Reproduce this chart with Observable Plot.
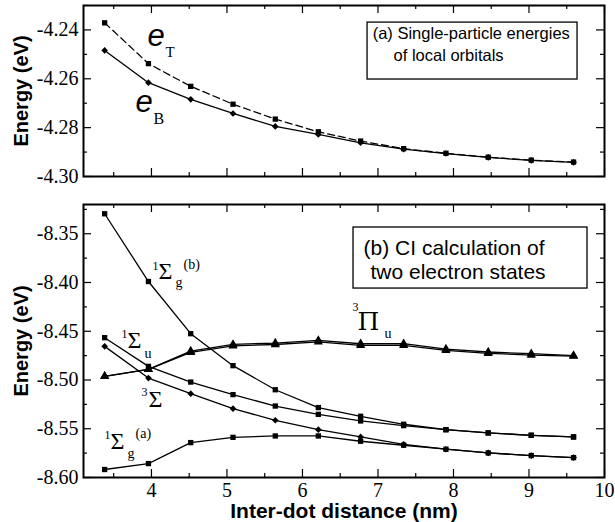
<!DOCTYPE html>
<html><head><meta charset="utf-8">
<script src="https://cdn.jsdelivr.net/npm/d3@7"></script>
<script src="https://cdn.jsdelivr.net/npm/@observablehq/plot@0.6"></script>
<style>
body{margin:0;background:#fff}
#chart{width:615px;height:522px;overflow:hidden}
#chart svg{display:block}
</style>
</head><body><div id="chart"></div>
<script>
// ---- data ----
const distance = [3.38, 3.96, 4.52, 5.08, 5.64, 6.21, 6.77, 7.34, 7.90, 8.46, 9.03, 9.59];
// panel (a): single-particle energies (eV)
const eT = [-4.2371, -4.2538, -4.2631, -4.2704, -4.2765, -4.2817, -4.2855, -4.2886, -4.2905, -4.2921, -4.2933, -4.2941];
const eB = [-4.2484, -4.2616, -4.2684, -4.2742, -4.2795, -4.2828, -4.2862, -4.2888, -4.2906, -4.2922, -4.2934, -4.2942];
// panel (b): CI two-electron states (eV)
const sigmaGb = [-8.3295, -8.3990, -8.4525, -8.4853, -8.5100, -8.5283, -8.5372, -8.5454, -8.5509, -8.5543, -8.5567, -8.5584];
const sigmaU  = [-8.4566, -8.4860, -8.5021, -8.5150, -8.5267, -8.5352, -8.5420, -8.5468, -8.5510, -8.5543, -8.5567, -8.5584];
const sigma3  = [-8.4655, -8.4980, -8.5140, -8.5294, -8.5413, -8.5509, -8.5584, -8.5660, -8.5710, -8.5748, -8.5775, -8.5796];
const sigmaGa = [-8.5918, -8.5857, -8.5642, -8.5588, -8.5574, -8.5574, -8.5628, -8.5669, -8.5710, -8.5748, -8.5775, -8.5796];
const pi3uA   = [-8.4962, -8.4891, -8.4703, -8.4635, -8.4621, -8.4594, -8.4628, -8.4628, -8.4683, -8.4713, -8.4730, -8.4750];
const pi3uB   = [-8.4962, -8.4891, -8.4716, -8.4650, -8.4636, -8.4608, -8.4644, -8.4644, -8.4697, -8.4727, -8.4744, -8.4756];

// ticks
const xMajor = [4, 5, 6, 7, 8, 9, 10];
const xMinor = [3.5, 4.5, 5.5, 6.5, 7.5, 8.5, 9.5];
const yMajorA = [-4.30, -4.28, -4.26, -4.24];
const yMinorA = [-4.29, -4.27, -4.25];
const yMajorB = [-8.60, -8.55, -8.50, -8.45, -8.40, -8.35];
const yMinorB = [-8.575, -8.525, -8.475, -8.425, -8.375, -8.325];

// texts
const yTitle = "Energy (eV)";
const xTitle = "Inter-dot distance (nm)";
const boxA = ["(a) Single-particle energies", "of local orbitals"];
const boxB = ["(b) CI calculation of", "two electron states"];

// annotation anchors (data units)
const boxARect = {x1: 6.862, x2: 9.643, y1: -4.2370, y2: -4.2603};
const boxAText = [{x: 6.93, y: -4.2436}, {x: 7.206, y: -4.2527}];
const boxBRect = {x1: 6.676, x2: 9.775, y1: -8.3436, y2: -8.4062};
const boxBText = [{x: 6.809, y: -8.3723}, {x: 6.901, y: -8.3959}];
const lblET = {x: 3.948, y: -4.2464};
const lblEB = {x: 3.789, y: -4.2738};
const lblSgb = {x: 4.093, y: -8.3959};
const lblSu = {x: 3.683, y: -8.4667};
const lbl3S = {x: 3.961, y: -8.5282};
const lblSga = {x: 3.458, y: -8.5703};
const lblPi = {x: 6.729, y: -8.4492};

const serif = "'Liberation Serif', 'Times New Roman', serif";
const dserif = "'DejaVu Serif', serif";
const sans = "'Liberation Sans', Arial, Helvetica, sans-serif";
const W = 615, ML = 83, MR = 11;
const FW = W - ML - MR;

const rows = ys => distance.map((x, i) => ({x, y: ys[i]}));

function series(ys, symbol, r, dash) {
  const d = rows(ys);
  return [
    Plot.line(d, {x: "x", y: "y", stroke: "black", strokeWidth: 1.3, strokeDasharray: dash}),
    Plot.dot(d, {x: "x", y: "y", symbol, r, fill: "black"})
  ];
}

function frameTicks(yMaj, yMin, fh) {
  const t = [];
  for (const [vals, len] of [[xMajor, 8], [xMinor, 4]]) {
    t.push(Plot.tickX(vals, {x: d => d, insetTop: fh - len, stroke: "black", strokeWidth: 1.2}));
    t.push(Plot.tickX(vals, {x: d => d, insetBottom: fh - len, stroke: "black", strokeWidth: 1.2}));
  }
  for (const [vals, len] of [[yMaj, 8], [yMin, 4]]) {
    t.push(Plot.tickY(vals, {y: d => d, insetRight: FW - len, stroke: "black", strokeWidth: 1.2}));
    t.push(Plot.tickY(vals, {y: d => d, insetLeft: FW - len, stroke: "black", strokeWidth: 1.2}));
  }
  return t;
}

function yTickLabels(vals) {
  return Plot.text(vals, {y: d => d, text: d => d.toFixed(2), frameAnchor: "left", dx: -5,
    textAnchor: "end", lineAnchor: "middle", fontSize: 20, fontFamily: serif, fill: "black"});
}

function label(anchor, parts) {
  return parts.map(p => Plot.text([anchor], {
    x: "x", y: "y", text: () => p.t, dx: p.dx || 0, dy: p.dy || 0,
    fontSize: p.size, fontFamily: p.font || serif, fontStyle: p.style || "normal",
    textAnchor: "start", lineAnchor: "bottom", fill: "black"
  }));
}

function boxText(anchors, lines, size) {
  return lines.map((t, i) => Plot.text([anchors[i]], {
    x: "x", y: "y", text: () => t, fontSize: size, fontFamily: sans,
    textAnchor: "start", lineAnchor: "bottom", fill: "black"
  }));
}

const common = {
  width: W, marginLeft: ML, marginRight: MR,
  x: {domain: [3.1, 10], axis: null},
  style: {background: "white", color: "black", fontFamily: serif, fontSize: "20px"}
};

const topPlot = Plot.plot({
  ...common,
  height: 190, marginTop: 5, marginBottom: 14,
  y: {domain: [-4.30, -4.23], axis: null},
  marks: [
    yTickLabels(yMajorA),
    Plot.rect([boxARect], {x1: "x1", x2: "x2", y1: "y1", y2: "y2", fill: "white", stroke: "black", strokeWidth: 1.3}),
    ...boxText(boxAText, boxA, 16.5),
    ...series(eT, "square", 3, "7,4"),
    ...series(eB, "diamond2", 3),
    ...label(lblET, [{t: "e", size: 31, font: sans, style: "italic"}, {t: "T", size: 15, dx: 18, dy: 11}]),
    ...label(lblEB, [{t: "e", size: 31, font: sans, style: "italic"}, {t: "B", size: 16, dx: 18, dy: 12}]),
    ...frameTicks(yMajorA, yMinorA, 171),
    Plot.text([yTitle], {frameAnchor: "left", rotate: -90, dx: -56, textAnchor: "middle", lineAnchor: "bottom", fontSize: 20, fontWeight: "bold", fontFamily: sans, fill: "black"}),
    Plot.frame({stroke: "black", strokeWidth: 2})
  ]
});

const botPlot = Plot.plot({
  ...common,
  height: 332, marginTop: 14, marginBottom: 45,
  y: {domain: [-8.60, -8.32], axis: null},
  marks: [
    yTickLabels(yMajorB),
    Plot.text(xMajor, {x: d => d, text: d => String(d), frameAnchor: "bottom", dy: 5, lineAnchor: "top", fontSize: 20, fontFamily: serif, fill: "black"}),
    Plot.rect([boxBRect], {x1: "x1", x2: "x2", y1: "y1", y2: "y2", fill: "white", stroke: "black", strokeWidth: 1.3}),
    ...boxText(boxBText, boxB, 21),
    ...series(pi3uA, "triangle", 3.4),
    ...series(pi3uB, "triangle", 3.4),
    ...series(sigmaGb, "square", 3),
    ...series(sigmaU, "square", 3),
    ...series(sigma3, "diamond2", 3),
    ...series(sigmaGa, "square", 3),
    ...label(lblSgb, [{t: "Σ", size: 24}, {t: "1", size: 12, dx: -6, dy: -9}, {t: "g", size: 14, dx: 17, dy: 8}, {t: "(b)", size: 14, dx: 25, dy: -10}]),
    ...label(lblSu, [{t: "Σ", size: 24}, {t: "1", size: 12, dx: -6, dy: -10}, {t: "u", size: 14, dx: 17, dy: 10}]),
    ...label(lbl3S, [{t: "Σ", size: 24}, {t: "3", size: 12, dx: -7, dy: -11}]),
    ...label(lblSga, [{t: "Σ", size: 24}, {t: "1", size: 12, dx: -6, dy: -10}, {t: "g", size: 14, dx: 17, dy: 9}, {t: "(a)", size: 14, dx: 25, dy: -11}]),
    ...label(lblPi, [{t: "Π", size: 25, font: dserif}, {t: "3", size: 12, dx: -5, dy: -19}, {t: "u", size: 14, dx: 27, dy: 8}]),
    ...frameTicks(yMajorB, yMinorB, 273),
    Plot.text([yTitle], {frameAnchor: "left", rotate: -90, dx: -56, textAnchor: "middle", lineAnchor: "bottom", fontSize: 20, fontWeight: "bold", fontFamily: sans, fill: "black"}),
    Plot.text([xTitle], {frameAnchor: "bottom", dy: 40, lineAnchor: "bottom", fontSize: 21, fontWeight: "bold", fontFamily: sans, fill: "black"}),
    Plot.frame({stroke: "black", strokeWidth: 2})
  ]
});

const chart = document.getElementById("chart");
chart.append(topPlot, botPlot);
</script>
</body></html>
